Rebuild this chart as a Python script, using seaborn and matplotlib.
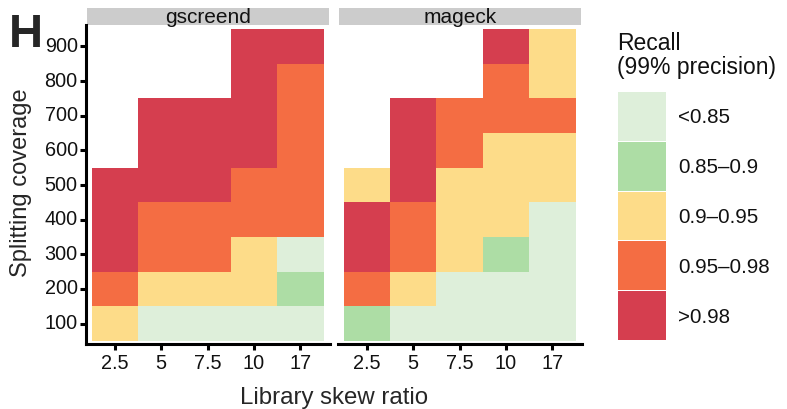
import numpy as np
import pandas as pd
import matplotlib
matplotlib.use("Agg")
import matplotlib.pyplot as plt
from matplotlib.colors import ListedColormap
from matplotlib.patches import Rectangle
import seaborn as sns

sns.set_theme(style="ticks")
plt.rcParams["font.family"] = ["Liberation Sans", "DejaVu Sans"]

skew_ratio = ["2.5", "5", "7.5", "10", "17"]
coverage = [100, 200, 300, 400, 500, 600, 700, 800, 900]
recall_bins = ["<0.85", "0.85\u20130.9", "0.9\u20130.95", "0.95\u20130.98", ">0.98"]
bin_colors = ["#DEEFDA", "#ADDDA5", "#FDDC89", "#F46D43", "#D53E4F"]

# index into recall_bins, one row per coverage (100 -> 900), None = not run
gscreend = [
    [2, 0, 0, 0, 0],
    [3, 2, 2, 2, 1],
    [4, 3, 3, 2, 0],
    [4, 3, 3, 3, 3],
    [4, 4, 4, 3, 3],
    [None, 4, 4, 4, 3],
    [None, 4, 4, 4, 3],
    [None, None, None, 4, 3],
    [None, None, None, 4, 4],
]
mageck = [
    [1, 0, 0, 0, 0],
    [3, 2, 0, 0, 0],
    [4, 3, 2, 1, 0],
    [4, 3, 2, 2, 0],
    [2, 4, 2, 2, 2],
    [None, 4, 3, 2, 2],
    [None, 4, 3, 3, 3],
    [None, None, None, 3, 2],
    [None, None, None, 4, 2],
]

rows = []
for method, grid in [("gscreend", gscreend), ("mageck", mageck)]:
    for cov, vals in zip(coverage, grid):
        for skew, v in zip(skew_ratio, vals):
            rows.append({"method": method, "coverage": cov, "skew": skew,
                         "bin": np.nan if v is None else v})
df = pd.DataFrame(rows)

cmap = ListedColormap(bin_colors)
W, H = 787, 409
fig = plt.figure(figsize=(W / 100, H / 100), dpi=100)

ax_b, ax_h = (H - 344) / H, 319 / H
axes = [fig.add_axes([86 / W, ax_b, 244 / W, ax_h]),
        fig.add_axes([338 / W, ax_b, 244 / W, ax_h])]

for i, (ax, method) in enumerate(zip(axes, ["gscreend", "mageck"])):
    tab = (df[df["method"] == method]
           .pivot(index="coverage", columns="skew", values="bin")
           .reindex(index=coverage[::-1], columns=skew_ratio))
    sns.heatmap(tab, ax=ax, cmap=cmap, vmin=-0.5, vmax=4.5, cbar=False,
                xticklabels=skew_ratio, yticklabels=coverage[::-1])
    ax.set_xlim(-0.12, 5.14)
    ax.set_ylim(9.09, -0.12)
    ax.set_xlabel("")
    ax.set_ylabel("")
    for s in ["top", "right"]:
        ax.spines[s].set_visible(False)
    ax.spines["bottom"].set_visible(True)
    ax.spines["bottom"].set_linewidth(2.2)
    ax.spines["bottom"].set_color("black")
    ax.tick_params(axis="x", length=4, width=2.2, color="black", labelsize=14.3,
                   pad=3, labelrotation=0, labelcolor="#111111")
    if i == 0:
        ax.spines["left"].set_visible(True)
        ax.spines["left"].set_linewidth(2.2)
        ax.spines["left"].set_color("black")
        ax.tick_params(axis="y", length=4, width=2.2, color="black", labelsize=14.3,
                       pad=2, labelrotation=0, labelcolor="#111111")
    else:
        ax.spines["left"].set_visible(False)
        ax.tick_params(axis="y", left=False, labelleft=False)
    ax.add_patch(Rectangle((0.005, 1.0), 0.99, 17 / 319, transform=ax.transAxes,
                           facecolor="#CCCCCC", edgecolor="none", clip_on=False))
    ax.text(0.5, 1 + 7.5 / 319, method, transform=ax.transAxes, ha="center",
            va="center", fontsize=15, color="#111111")

fig.text(334 / W, 5 / H, "Library skew ratio", ha="center", va="baseline", fontsize=17.3)
fig.text(21 / W, (H - 183) / H, "Splitting coverage", rotation=90,
         ha="center", va="center", fontsize=17)
fig.text(9 / W, (H - 47) / H, "H", fontsize=34, fontweight="bold", va="baseline")

# legend drawn as a one-column heatmap
lax = fig.add_axes([617 / W, (H - 340) / H, 49 / W, 249 / H])
sns.heatmap(np.arange(5).reshape(5, 1), ax=lax, cmap=cmap, vmin=-0.5, vmax=4.5,
            cbar=False, linewidths=0.7, linecolor="white",
            xticklabels=False, yticklabels=recall_bins)
lax.yaxis.tick_right()
lax.tick_params(axis="y", length=0, pad=8.6, labelsize=14.8, labelrotation=0,
                labelcolor="#111111")
lax.set_ylabel("")
fig.text(617 / W, (H - 32) / H, "Recall\n(99% precision)", ha="left", va="top",
         fontsize=16.5, linespacing=1.08, color="#111111")

fig.savefig("out.png", dpi=100)
